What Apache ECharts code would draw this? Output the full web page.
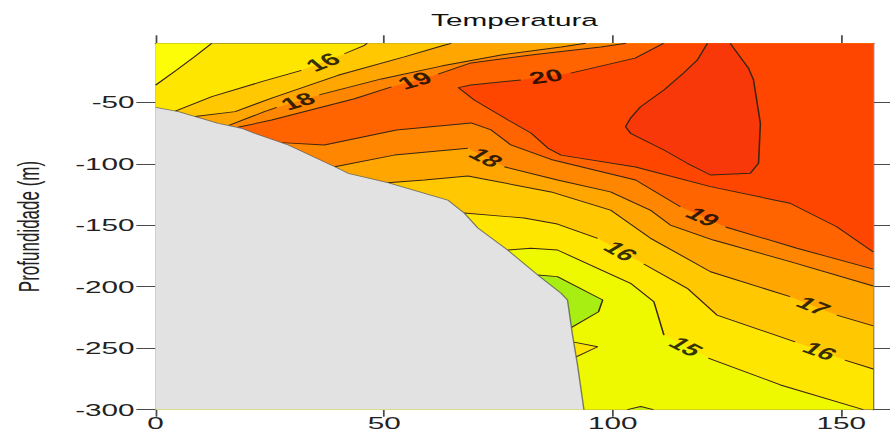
<!DOCTYPE html>
<html><head><meta charset="utf-8">
<script src="https://cdn.jsdelivr.net/npm/echarts@6/dist/echarts.min.js"></script>
<style>
html,body{margin:0;padding:0;background:#fff;overflow:hidden;width:890px;height:437px}
#main{position:absolute;left:0;top:0;width:509px;height:437px;transform-origin:0 0;transform:scaleX(1.748527)}
</style>
</head><body><div id="main"></div><script>
// ---------- data (distance, depth in m) ----------
const xTicks = [0, 50, 100, 150];
const yTicks = [-300, -250, -200, -150, -100, -50];
const xMax = 157, yTop = -2, yBottom = -300;

const bathymetry = [[0,-54.1],[5.0,-57.6],[13.7,-67.1],[18.8,-71.1],[21.7,-75.2],[29.0,-84.7],[39.2,-102.4],[42.1,-107.7],[50.8,-115.4],[63.9,-129.5],[67.5,-140.0],[70.5,-152.2],[77.0,-170.1],[83.6,-190.5],[88.7,-205.3],[90.1,-210.8],[91.2,-239.2],[92.3,-263.7],[93.7,-300]];

// isolines (null = gap where the level label sits)
const iso15a = [[0,-36],[4.6,-23.7],[8.5,-13],[12.3,-2]];
const iso16a = [[4.3,-57.1],[12.3,-45.4],[23.2,-33.2],[31.9,-24.0],null,[41.3,-10.5],[45.7,-3.6],[46.3,-2]];
const iso17a = [[8.6,-61.5],[17.4,-57.6],[25.4,-46.5],[39.9,-28.0],[54.4,-13.1],[63.1,-3.6],[64.7,-2]];
const iso18a = [[15.9,-68.9],[23.8,-57.6],[26.5,-54.2],null,[35.8,-44.0],[49.4,-31.0],[62.5,-20.5],[75.6,-11.5],[88.7,-5],[94.1,-2]];
const iso19a = [[18.0,-70.3],[25.4,-64.4],[43.5,-47.1],[51.6,-37.5],null,[61.8,-27.0],[69.0,-18.0],[82.1,-11.5],[97.4,-5],[102.9,-2]];
const iso20 = [[111.1,-2],[104.9,-14.0],[90.8,-26.2],null,[79.9,-31.8],[69.0,-35.9],[66.2,-38.0],[69.7,-48.1],[77.1,-64.4],[82.1,-75.0],[85.8,-87.2],[88.7,-92.9],[105.0,-102.6],[121.4,-118.6],[138.8,-132.1],[149.0,-151.2],[157,-171.7]];
const iso21 = [[120.7,-2],[118.5,-15.6],[115.5,-26.2],[111.2,-40.0],[106.1,-53.6],[103.9,-62.8],[102.8,-69.8],[103.9,-75.2],[111.2,-88.8],[116.3,-99.6],[121.4,-109.1],[130.1,-107.7],[131.9,-99.6],[132.3,-67.1],[130.8,-31.8],[129.7,-22.3],[125.7,-2]];
const iso19b = [[27.6,-82.8],[36.9,-84.7],[52.7,-72.5],[69.0,-66.8],[73.4,-72.5],[77.7,-84.7],[86.5,-96.5],[105.0,-113.2],[114.8,-134.9],null,[124.7,-151.4],[140.3,-168.7],[157,-185.6]];
const iso18b = [[39.2,-102.4],[52.2,-92.9],[68.3,-87.4],null,[76.3,-102.4],[87.9,-113.2],[99.5,-122.9],[108.2,-137.6],[112.6,-149.8],[122.0,-162.0],[138.8,-179.6],[157,-199.4]];
const iso17b = [[50.8,-115.4],[58.8,-113.2],[68.3,-109.9],[86.5,-122.9],[99.5,-137.6],[108.2,-160.4],[121.4,-187.8],[138.8,-208.1],null,[149.0,-223.0],[157,-231.9]];
const iso16b = [[67.5,-140.0],[80.6,-144.1],[87.9,-149.0],[96.7,-160.6],null,[106.8,-181.5],[116.3,-201.3],[122.8,-223.0],[139.9,-244.9],null,[150.8,-259.6],[157,-266.9]];
const iso15b = [[77.0,-170.1],[82.1,-168.7],[87.9,-170.1],[96.7,-185.0],[103.9,-197.2],[109.0,-212.2],[111.2,-239.3],null,[120.9,-258.0],[136.7,-279.9],[154.8,-300]];
const iso15c = [[91.5,-245],[96.7,-248.8],[92.0,-257]];
const iso14a = [[83.6,-190.5],[87.9,-191.8],[97.8,-210.8],[96.9,-220.3],[91.0,-233.0]];
const iso14b = [[103.2,-300],[106.1,-297.4],[108.9,-300]];

// ---------- build ----------
const FONT = 'Liberation Sans, Arial, Helvetica, sans-serif';
const S = 890 / 509;
const clean = a => a.filter(p => p);
const rev = a => clean(a).slice().reverse();

const contours = [
  {level: 15, pts: iso15a}, {level: 16, pts: iso16a}, {level: 17, pts: iso17a},
  {level: 18, pts: iso18a}, {level: 19, pts: iso19a}, {level: 20, pts: iso20},
  {level: 21, pts: iso21}, {level: 19, pts: iso19b}, {level: 18, pts: iso18b},
  {level: 17, pts: iso17b}, {level: 16, pts: iso16b}, {level: 15, pts: iso15b},
  {level: 15, pts: iso15c}, {level: 14, pts: iso14a}, {level: 14, pts: iso14b}
];

const fills = [
  {pts: [[0, yTop], [xMax, yTop], [xMax, yBottom], [0, yBottom]], color: '#ffe600'},
  {pts: clean(iso15a).concat([[0, yTop]]), color: '#fefd08'},
  {pts: clean(iso15b).concat([[0, yBottom]]), color: '#eef900'},
  {pts: clean(iso15c), color: '#ffe600'},
  {pts: clean(iso14a), color: '#a8ee12'},
  {pts: clean(iso14b), color: '#c4f20a'},
  {pts: clean(iso16a).concat([[xMax, yTop]], rev(iso16b), [[0, yBottom]]), color: '#ffc800'},
  {pts: clean(iso17a).concat([[xMax, yTop]], rev(iso17b), [[0, yBottom]]), color: '#ffa600'},
  {pts: clean(iso18a).concat([[xMax, yTop]], rev(iso18b), [[0, yBottom]]), color: '#ff8600'},
  {pts: clean(iso19a).concat([[xMax, yTop]], rev(iso19b), [[0, yBottom]]), color: '#ff6400'},
  {pts: clean(iso20).concat([[xMax, yTop]]), color: '#ff4600'},
  {pts: clean(iso21), color: '#f83808'}
];

function polySeries(pts, color, z) {
  return {
    type: 'custom', coordinateSystem: 'cartesian2d', data: [[50, -150]], silent: true,
    clip: true, z: z, animation: false,
    renderItem: (params, api) => ({
      type: 'polygon',
      shape: {points: pts.map(p => api.coord(p))},
      style: {fill: color, stroke: null}
    })
  };
}

const series = [];
fills.forEach((f, i) => series.push(polySeries(f.pts, f.color, 1 + i * 0.01)));

contours.forEach(c => {
  let seg = [];
  const flush = () => { if (seg.length > 1) series.push({
    type: 'line', data: seg, showSymbol: false, symbol: 'none', silent: true, z: 3,
    animation: false, lineStyle: {color: '#3a2614', width: 0.9}
  }); seg = []; };
  c.pts.forEach(p => { if (p) seg.push(p); else flush(); });
  flush();
});

series.push(polySeries(bathymetry.concat([[0, yBottom]]), '#e2e2e2', 4));
series.push({
  type: 'line', data: bathymetry, showSymbol: false, symbol: 'none', silent: true, z: 4.5,
  animation: false, lineStyle: {color: '#4a4a4a', width: 0.8, opacity: 0.7}
});

const axisLineStyle = {show: true, onZero: false, lineStyle: {color: '#4a4a4a', width: 1}};

const option = {
  animation: false,
  backgroundColor: '#ffffff',
  grid: {left: 153.7 / S, right: 509 - 873.3 / S, top: 43.3, bottom: 437 - 409.7, containLabel: false},
  xAxis: [
    {type: 'value', position: 'bottom', min: 0, max: xMax,
     axisLine: axisLineStyle,
     axisTick: {show: true, inside: false, length: 7, customValues: xTicks, lineStyle: {color: '#4a4a4a'}},
     axisLabel: {show: true, customValues: xTicks, fontSize: 17, color: '#222', margin: 5, fontFamily: FONT},
     splitLine: {show: false}},
    {type: 'value', position: 'top', min: 0, max: xMax,
     name: 'Temperatura', nameLocation: 'middle', nameGap: 15,
     nameTextStyle: {fontSize: 17, color: '#111', fontFamily: FONT},
     axisLine: axisLineStyle,
     axisTick: {show: true, inside: false, length: 8, customValues: xTicks, lineStyle: {color: '#4a4a4a'}},
     axisLabel: {show: false}, splitLine: {show: false}}
  ],
  yAxis: [
    {type: 'value', position: 'left', min: yBottom, max: yTop,
     name: 'Profundidade (m)', nameLocation: 'middle', nameGap: 64, nameRotate: 90,
     nameTextStyle: {fontSize: 17, color: '#222', fontFamily: FONT},
     axisLine: axisLineStyle,
     axisTick: {show: true, inside: false, length: 11, customValues: yTicks, lineStyle: {color: '#4a4a4a'}},
     axisLabel: {show: true, customValues: yTicks, fontSize: 17, color: '#222', margin: 12, fontFamily: FONT},
     splitLine: {show: false}},
    {type: 'value', position: 'right', min: yBottom, max: yTop,
     axisLine: axisLineStyle,
     axisTick: {show: true, inside: false, length: 11, customValues: yTicks, lineStyle: {color: '#4a4a4a'}},
     axisLabel: {show: false}, splitLine: {show: false}}
  ],
  series: series
};

const chart = echarts.init(document.getElementById('main'), null, {renderer: 'svg'});
chart.setOption(option);

// contour level labels placed in the gaps, rotated along the line
const labelSeries = [];
contours.forEach(c => {
  c.pts.forEach((p, k) => {
    if (p !== null) return;
    const p1 = c.pts[k - 1], p2 = c.pts[k + 1];
    const a = chart.convertToPixel({gridIndex: 0}, p1);
    const b = chart.convertToPixel({gridIndex: 0}, p2);
    let ang = Math.atan2(-(b[1] - a[1]), b[0] - a[0]) * 180 / Math.PI;
    if (ang > 90) ang -= 180;
    if (ang < -90) ang += 180;
    labelSeries.push({
      type: 'scatter', silent: true, z: 6, animation: false,
      data: [[(p1[0] + p2[0]) / 2, (p1[1] + p2[1]) / 2]],
      symbol: 'circle', symbolSize: 1, itemStyle: {color: 'rgba(0,0,0,0)'},
      label: {show: true, position: 'inside', formatter: String(c.level), rotate: ang,
              fontSize: 17, fontWeight: 'bold', color: '#000', fontFamily: FONT}
    });
  });
});
chart.setOption({series: series.concat(labelSeries)});
</script></body></html>
